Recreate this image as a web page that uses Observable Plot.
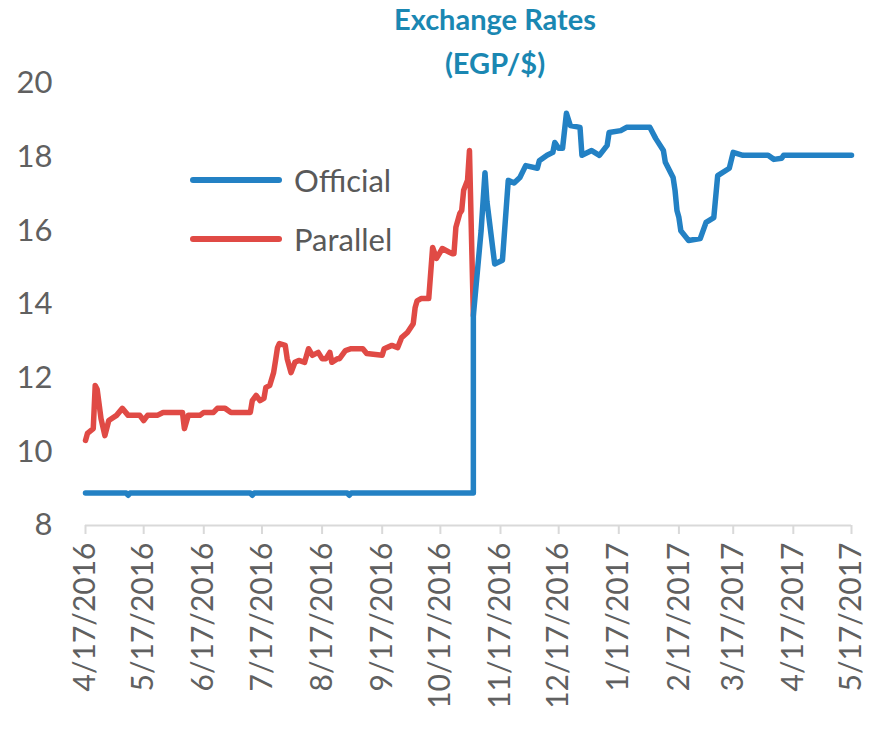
<!DOCTYPE html>
<html>
<head>
<meta charset="utf-8">
<script src="https://cdn.jsdelivr.net/npm/d3@7"></script>
<script src="https://cdn.jsdelivr.net/npm/@observablehq/plot@0.6"></script>
<style>
  html, body { margin: 0; padding: 0; background: #fff; }
  #wrap { position: relative; width: 874px; height: 729px; font-family: Lato, "Open Sans", sans-serif; }
  #title { position: absolute; left: 345px; width: 300px; top: -3px; text-align: center; color: #1a87b2; font-weight: 700; font-size: 29px; line-height: 44px; white-space: nowrap; }
  #legend { position: absolute; left: 190px; top: 150px; color: #595959; font-size: 31px; }
  .item { display: flex; align-items: center; height: 59px; }
  .sw { width: 92px; height: 6px; border-radius: 3px; margin-right: 12px; }
  #chart svg { display: block; overflow: visible; }
</style>
</head>
<body>
<div id="wrap">
  <div id="chart"></div>
  <div id="title">Exchange Rates<br>(EGP/$)</div>
  <div id="legend"></div>
</div>
<script>
const seriesNames = ["Official", "Parallel"];
const seriesColors = ["#2381c4", "#e04a45"];

const officialDates = [
  "2016-04-17","2016-05-08","2016-05-09","2016-05-10","2016-07-11","2016-07-12","2016-07-13",
  "2016-08-30","2016-08-31","2016-09-01","2016-11-03","2016-11-03","2016-11-07","2016-11-09",
  "2016-11-10","2016-11-14","2016-11-18","2016-11-21","2016-11-24","2016-11-27","2016-11-30",
  "2016-12-06","2016-12-07","2016-12-11","2016-12-14","2016-12-15","2016-12-17","2016-12-19",
  "2016-12-21","2016-12-23","2016-12-28","2016-12-29","2017-01-03","2017-01-07","2017-01-11",
  "2017-01-12","2017-01-18","2017-01-21","2017-02-02","2017-02-05","2017-02-09","2017-02-10",
  "2017-02-14","2017-02-15","2017-02-16","2017-02-17","2017-02-18","2017-02-22","2017-02-28",
  "2017-03-03","2017-03-07","2017-03-09","2017-03-15","2017-03-17","2017-03-22","2017-04-04",
  "2017-04-07","2017-04-11","2017-04-12","2017-05-17"
];
const officialValues = [
  8.88, 8.88, 8.82, 8.88, 8.88, 8.82, 8.88,
  8.88, 8.82, 8.88, 8.88, 13.7, 16.0, 17.58,
  16.8, 15.1, 15.2, 17.37, 17.3, 17.45, 17.77,
  17.7, 17.9, 18.05, 18.13, 18.4, 18.24, 18.24,
  19.19, 18.86, 18.81, 18.05, 18.18, 18.05, 18.32,
  18.67, 18.72, 18.81, 18.81, 18.51, 18.18, 17.86,
  17.45, 17.1, 16.55, 16.36, 16.0, 15.74, 15.79,
  16.23, 16.36, 17.5, 17.7, 18.13, 18.05, 18.05,
  17.94, 17.97, 18.05, 18.05
];

const parallelDates = [
  "2016-04-17","2016-04-18","2016-04-21","2016-04-22","2016-04-23","2016-04-25","2016-04-27",
  "2016-04-29","2016-05-03","2016-05-06","2016-05-09","2016-05-15","2016-05-17","2016-05-19",
  "2016-05-24","2016-05-27","2016-06-06","2016-06-07","2016-06-09","2016-06-15","2016-06-17",
  "2016-06-22","2016-06-24","2016-06-28","2016-07-01","2016-07-11","2016-07-12","2016-07-14",
  "2016-07-16","2016-07-18","2016-07-19","2016-07-21","2016-07-23","2016-07-24","2016-07-25",
  "2016-07-26","2016-07-29","2016-07-30","2016-08-01","2016-08-03","2016-08-05","2016-08-08",
  "2016-08-10","2016-08-12","2016-08-15","2016-08-17","2016-08-19","2016-08-21","2016-08-22",
  "2016-08-25","2016-08-26","2016-08-29","2016-09-01","2016-09-07","2016-09-09","2016-09-17",
  "2016-09-18","2016-09-22","2016-09-25","2016-09-27","2016-09-30","2016-10-03","2016-10-04",
  "2016-10-05","2016-10-07","2016-10-11","2016-10-13","2016-10-15","2016-10-18","2016-10-23",
  "2016-10-24","2016-10-25","2016-10-27","2016-10-28","2016-10-29","2016-10-31","2016-11-01",
  "2016-11-03"
];
const parallelValues = [
  10.31, 10.5, 10.63, 11.8, 11.7, 10.9, 10.44,
  10.85, 10.99, 11.18, 10.99, 10.99, 10.85, 10.99,
  10.99, 11.07, 11.07, 10.63, 10.99, 10.99, 11.07,
  11.07, 11.18, 11.18, 11.07, 11.07, 11.39, 11.53,
  11.39, 11.45, 11.75, 11.8, 12.15, 12.48, 12.83,
  12.94, 12.89, 12.53, 12.15, 12.43, 12.48, 12.43,
  12.8, 12.62, 12.7, 12.53, 12.53, 12.7, 12.43,
  12.53, 12.53, 12.75, 12.8, 12.8, 12.67, 12.62,
  12.8, 12.89, 12.83, 13.1, 13.24, 13.48, 13.92,
  14.1, 14.16, 14.16, 15.55, 15.25, 15.52, 15.38,
  15.38, 16.1, 16.47, 16.55, 17.1, 17.37, 18.18,
  13.7
];

const xTickLabels = [
  "2016-04-17","2016-05-17","2016-06-17","2016-07-17","2016-08-17","2016-09-17","2016-10-17",
  "2016-11-17","2016-12-17","2017-01-17","2017-02-17","2017-03-17","2017-04-17","2017-05-17"
];
const yTicks = [8, 10, 12, 14, 16, 18, 20];

const official = officialDates.map((d, i) => ({date: new Date(d), value: officialValues[i], series: "Official"}));
const parallel = parallelDates.map((d, i) => ({date: new Date(d), value: parallelValues[i], series: "Parallel"}));
const xTicks = xTickLabels.map(d => new Date(d));
const fmt = d3.utcFormat("%-m/%-d/%Y");

const chart = Plot.plot({
  width: 874,
  height: 729,
  marginTop: 83,
  marginBottom: 204,
  marginLeft: 85,
  marginRight: 23,
  style: {fontFamily: "Lato, 'Open Sans', sans-serif", color: "#595959", background: "#fff", overflow: "visible"},
  x: {type: "utc", domain: [xTicks[0], xTicks[xTicks.length - 1]]},
  y: {domain: [8, 20]},
  color: {domain: seriesNames, range: seriesColors},
  marks: [
    Plot.ruleY([8], {stroke: "#d9d9d9", strokeWidth: 2}),
    Plot.axisX({ticks: xTicks, tickFormat: fmt, tickRotate: -90, tickSize: 9, tickPadding: 8,
      stroke: "#d9d9d9", strokeWidth: 2, fill: "#606060", fontSize: 30, label: null}),
    Plot.axisY({ticks: yTicks, tickSize: 0, tickPadding: 33, fontSize: 31, fill: "#606060", label: null}),
    Plot.lineY(parallel, {x: "date", y: "value", stroke: "series", strokeWidth: 5.5, strokeLinejoin: "round"}),
    Plot.lineY(official, {x: "date", y: "value", stroke: "series", strokeWidth: 5.5, strokeLinejoin: "round"})
  ]
});
document.getElementById("chart").appendChild(chart);

const legend = document.getElementById("legend");
seriesNames.forEach((name, i) => {
  const item = document.createElement("div");
  item.className = "item";
  const sw = document.createElement("div");
  sw.className = "sw";
  sw.style.background = seriesColors[i];
  const label = document.createElement("span");
  label.textContent = name;
  item.appendChild(sw);
  item.appendChild(label);
  legend.appendChild(item);
});
</script>
</body>
</html>
